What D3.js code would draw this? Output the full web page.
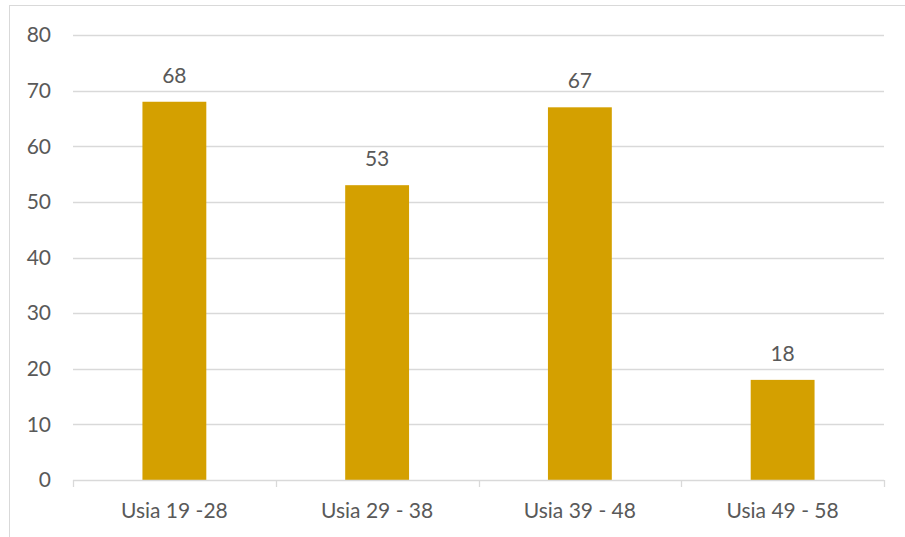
<!DOCTYPE html>
<html>
<head>
<meta charset="utf-8">
<script src="https://cdn.jsdelivr.net/npm/d3@7"></script>
<style>
  body { margin: 0; background: #fff; }
  text { font-family: Lato, "Open Sans", sans-serif; fill: #595959; }
</style>
</head>
<body>
<div id="chart"></div>
<script>
var categories = ["Usia 19 -28", "Usia 29 - 38", "Usia 39 - 48", "Usia 49 - 58"];
var values = [68, 53, 67, 18];
var yTicks = [0, 10, 20, 30, 40, 50, 60, 70, 80];

var W = 905, H = 537;
var margin = {top: 35, right: 21, bottom: 57, left: 73},
    width = W - margin.left - margin.right,
    height = H - margin.top - margin.bottom;

var svg = d3.select("#chart").append("svg")
    .attr("width", W)
    .attr("height", H);

// outer border of the chart area
svg.append("rect")
    .attr("x", 9.5).attr("y", 5.5)
    .attr("width", W).attr("height", H)
    .attr("fill", "none")
    .attr("stroke", "#d9d9d9");

var g = svg.append("g")
    .attr("transform", "translate(" + margin.left + "," + margin.top + ")");

var x = d3.scaleBand()
    .domain(categories)
    .range([0, width])
    .paddingInner(0.685)
    .paddingOuter(0.3425);

var y = d3.scaleLinear()
    .domain([0, 80])
    .range([height, 0]);

// grid
g.append("g")
    .selectAll("line")
    .data(yTicks.filter(function(d) { return d > 0; }))
    .enter().append("line")
    .attr("x1", 0).attr("x2", width)
    .attr("y1", function(d) { return Math.round(y(d)) + 0.5; })
    .attr("y2", function(d) { return Math.round(y(d)) + 0.5; })
    .attr("stroke", "#d9d9d9")
    .attr("stroke-width", 1.3);

// y labels
g.append("g")
    .selectAll("text")
    .data(yTicks)
    .enter().append("text")
    .attr("x", -22)
    .attr("y", function(d) { return y(d); })
    .attr("dy", "0.35em")
    .attr("text-anchor", "end")
    .style("font-size", "21px")
    .text(function(d) { return d; });

// bars
g.selectAll(".bar")
    .data(values)
    .enter().append("rect")
    .attr("class", "bar")
    .attr("x", function(d, i) { return x(categories[i]); })
    .attr("width", x.bandwidth())
    .attr("y", function(d) { return y(d); })
    .attr("height", function(d) { return height - y(d); })
    .attr("fill", "#d4a000");

// value labels
g.selectAll(".val")
    .data(values)
    .enter().append("text")
    .attr("class", "val")
    .attr("x", function(d, i) { return x(categories[i]) + x.bandwidth() / 2; })
    .attr("y", function(d) { return y(d) - 19; })
    .attr("text-anchor", "middle")
    .style("font-size", "21px")
    .text(function(d) { return d; });

// x axis
var xAxis = g.append("g")
    .attr("transform", "translate(0," + height + ")");
xAxis.append("line")
    .attr("x1", 0).attr("x2", width)
    .attr("y1", 0.5).attr("y2", 0.5)
    .attr("stroke", "#d9d9d9")
    .attr("stroke-width", 1.3);
var bounds = d3.range(categories.length + 1).map(function(i) { return i * x.step(); });
xAxis.selectAll(".tk")
    .data(bounds)
    .enter().append("line")
    .attr("x1", function(d) { return Math.round(d) + 0.5; })
    .attr("x2", function(d) { return Math.round(d) + 0.5; })
    .attr("y1", 0).attr("y2", 7)
    .attr("stroke", "#d9d9d9")
    .attr("stroke-width", 1.3);
xAxis.selectAll(".lbl")
    .data(categories)
    .enter().append("text")
    .attr("x", function(d) { return x(d) + x.bandwidth() / 2; })
    .attr("y", 38)
    .attr("text-anchor", "middle")
    .style("font-size", "21px")
    .text(function(d) { return d; });
</script>
</body>
</html>
